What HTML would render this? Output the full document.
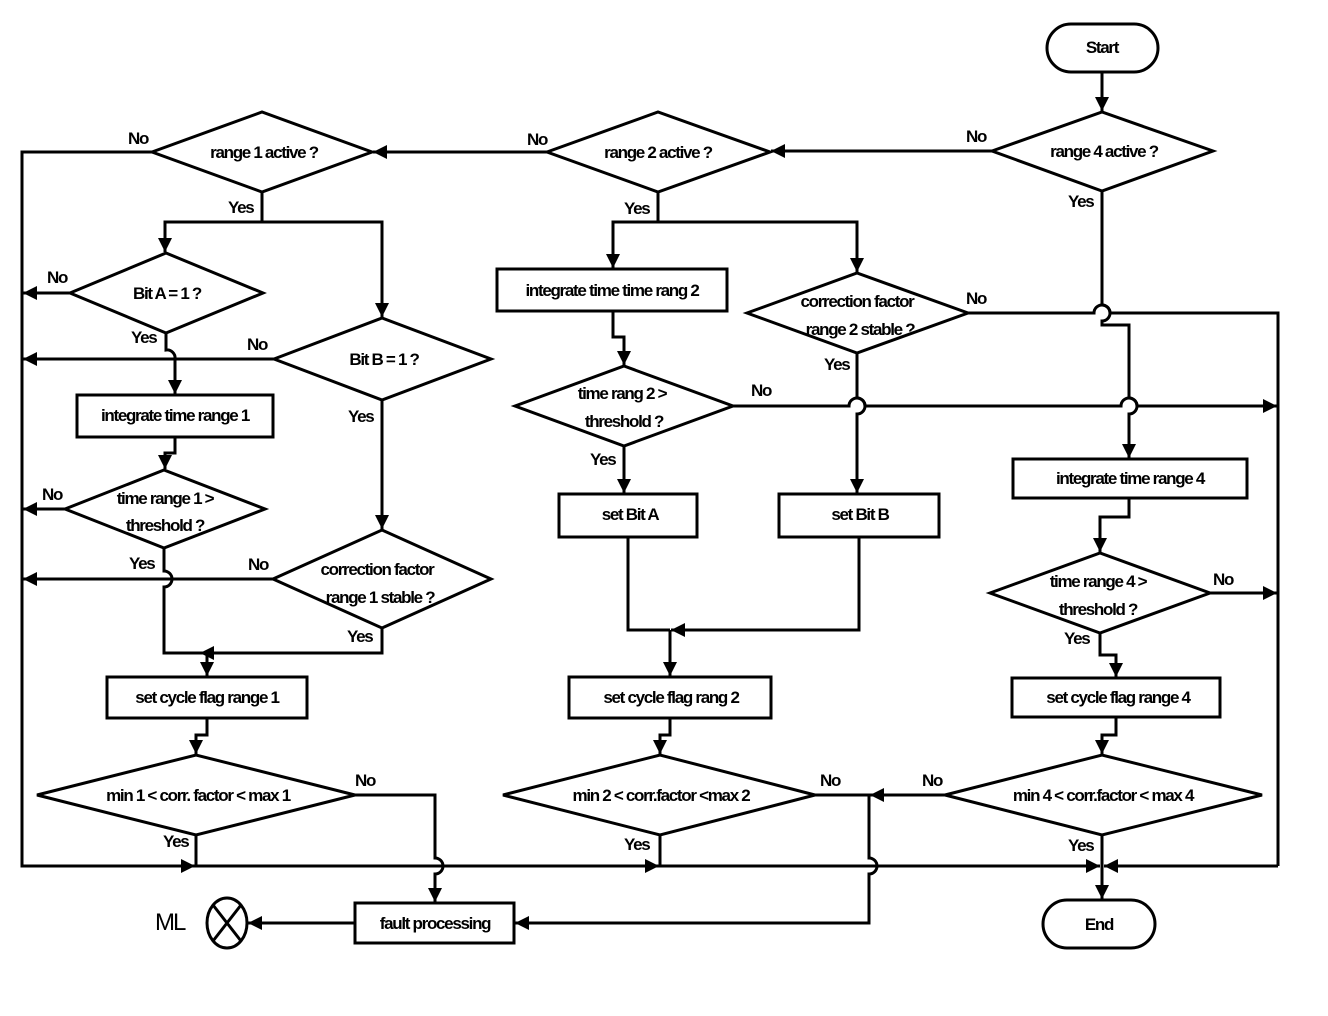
<!DOCTYPE html>
<html><head><meta charset="utf-8"><style>
html,body{margin:0;padding:0;background:#fff;}
svg{display:block;}
text{font-family:"Liberation Sans",sans-serif;font-weight:bold;font-size:17px;letter-spacing:-1.3px;fill:#000;}
.s{fill:none;stroke:#000;stroke-width:3;}
.b{fill:#fff;stroke:#000;stroke-width:3;}
</style></head><body>
<svg width="1328" height="1016" viewBox="0 0 1328 1016" xmlns="http://www.w3.org/2000/svg">
<defs>
<marker id="a" markerUnits="userSpaceOnUse" markerWidth="16" markerHeight="16" refX="14" refY="7" orient="auto">
<path d="M0,0 L14,7 L0,14 z" fill="#000"/></marker>
</defs>
<g class="s">
<!-- start -> range4 -->
<path d="M1102 72 V111" marker-end="url(#a)"/>
<path d="M992 151 H771" marker-end="url(#a)"/>
<path d="M547 152 H373" marker-end="url(#a)"/>
<path d="M152 152 H22 V866 H1086" />
<path d="M22 866 H195" marker-end="url(#a)"/>
<path d="M22 866 H659" marker-end="url(#a)"/>
<path d="M22 866 H1100" marker-end="url(#a)"/>
<path d="M1278 866 H1104" marker-end="url(#a)"/>
<!-- range4 yes -->
<path d="M1102 191 V305 a8 8 0 0 1 0 16 V325 H1129 V398 a8 8 0 0 1 0 16 V458" marker-end="url(#a)"/>
<!-- range1 yes -->
<path d="M262 192 V222 H382 V317" marker-end="url(#a)"/>
<path d="M262 222 H165 V252" marker-end="url(#a)"/>
<path d="M70 293 H23" marker-end="url(#a)"/>
<path d="M274 359 H23" marker-end="url(#a)"/>
<path d="M166 333 V350 a8 8 0 0 1 9 9 V394" marker-end="url(#a)"/>
<path d="M175 437 V453 H165 V469" marker-end="url(#a)"/>
<path d="M65 509 H23" marker-end="url(#a)"/>
<path d="M164 548 V571 a8 8 0 0 1 0 16 V653 H382 V628"/>
<path d="M273 579 H23" marker-end="url(#a)"/>
<path d="M382 400 V529" marker-end="url(#a)"/>
<path d="M382 653 H200" marker-end="url(#a)"/>
<path d="M207 653 V676" marker-end="url(#a)"/>
<path d="M207 718 V735 H196 V754" marker-end="url(#a)"/>
<path d="M355 795 H435 V858 a8 8 0 0 1 0 16 V902" marker-end="url(#a)"/>
<path d="M196 835 V866"/>
<path d="M355 923 H248" marker-end="url(#a)"/>
<!-- range2 -->
<path d="M658 192 V222 H857 V272" marker-end="url(#a)"/>
<path d="M658 222 H613 V268" marker-end="url(#a)"/>
<path d="M613 311 V337 H624 V365" marker-end="url(#a)"/>
<path d="M733 406 H849 a8 8 0 0 1 16 0 H1121 a8 8 0 0 1 16 0 H1277" marker-end="url(#a)"/>
<path d="M624 446 V493" marker-end="url(#a)"/>
<path d="M857 353 V398 a8 8 0 0 1 0 16 V493" marker-end="url(#a)"/>
<path d="M968 313 H1094 a8 8 0 0 1 16 0 H1278 V866"/>
<path d="M628 537 V630 H670"/>
<path d="M859 537 V630 H671" marker-end="url(#a)"/>
<path d="M670 630 V676" marker-end="url(#a)"/>
<path d="M670 718 V735 H660 V754" marker-end="url(#a)"/>
<path d="M660 835 V866"/>
<path d="M815 795 H869 V858 a8 8 0 0 1 0 16 V923 H515" marker-end="url(#a)"/>
<path d="M945 795 H870" marker-end="url(#a)"/>
<!-- range4 right -->
<path d="M1129 498 V517 H1100 V552" marker-end="url(#a)"/>
<path d="M1210 593 H1277" marker-end="url(#a)"/>
<path d="M1100 633 V655 H1116 V677" marker-end="url(#a)"/>
<path d="M1116 717 V735 H1102 V754" marker-end="url(#a)"/>
<path d="M1102 835 V899" marker-end="url(#a)"/>
</g>
<g class="b">
<rect x="1047" y="24" width="111" height="48" rx="24"/>
<rect x="1043" y="900" width="112" height="48" rx="24"/>
<polygon points="992,151 1102,112 1213,151 1102,191"/>
<polygon points="547,152 658,112 770,152 658,192"/>
<polygon points="152,152 262,112 372,152 262,192"/>
<polygon points="70,293 166,253 263,293 166,333"/>
<polygon points="274,359 382,318 491,359 382,400"/>
<rect x="77" y="395" width="196" height="42"/>
<polygon points="65,509 164,470 265,509 164,548"/>
<polygon points="273,579 382,530 491,579 382,628"/>
<rect x="107" y="677" width="200" height="41"/>
<polygon points="37,795 196,755 355,795 196,835"/>
<rect x="355" y="903" width="159" height="40"/>
<ellipse cx="227" cy="923" rx="20" ry="25"/>
<rect x="497" y="269" width="230" height="42"/>
<polygon points="747,313 857,273 968,313 857,353"/>
<polygon points="515,406 624,366 733,406 624,446"/>
<rect x="559" y="494" width="138" height="43"/>
<rect x="779" y="494" width="160" height="43"/>
<rect x="569" y="677" width="202" height="41"/>
<polygon points="503,795 660,755 815,795 660,835"/>
<rect x="1013" y="459" width="234" height="39"/>
<polygon points="990,593 1100,553 1210,593 1100,633"/>
<rect x="1012" y="678" width="208" height="39"/>
<polygon points="945,795 1102,755 1262,795 1102,835"/>
</g>
<g class="s"><path d="M213 905 L241 941 M241 905 L213 941"/></g>
<g text-anchor="middle">
<text x="1102" y="53">Start</text>
<text x="1099" y="930">End</text>
<text x="1104" y="157">range 4 active ?</text>
<text x="658" y="158">range 2 active ?</text>
<text x="264" y="158">range 1 active ?</text>
<text x="167" y="299">Bit A = 1 ?</text>
<text x="384" y="365">Bit B =  1 ?</text>
<text x="175" y="421">integrate time range 1</text>
<text x="165" y="504">time range 1 &gt;</text>
<text x="165" y="531">threshold ?</text>
<text x="377" y="575">correction factor</text>
<text x="380" y="603">range 1 stable ?</text>
<text x="207" y="703">set cycle flag  range 1</text>
<text x="198" y="801">min 1 &lt; corr. factor &lt; max 1</text>
<text x="435" y="929">fault processing</text>
<text x="612" y="296">integrate time time rang 2</text>
<text x="857" y="307">correction factor</text>
<text x="860" y="335">range 2 stable ?</text>
<text x="622" y="399">time rang 2 &gt;</text>
<text x="624" y="427">threshold ?</text>
<text x="630" y="520">set Bit A</text>
<text x="860" y="520">set Bit B</text>
<text x="671" y="703">set cycle flag rang 2</text>
<text x="661" y="801">min 2 &lt; corr.factor &lt;max 2</text>
<text x="1130" y="484">integrate time range 4</text>
<text x="1098" y="587">time range 4 &gt;</text>
<text x="1098" y="615">threshold ?</text>
<text x="1118" y="703">set cycle flag range 4</text>
<text x="1103" y="801">min 4 &lt; corr.factor &lt; max 4</text>
</g>
<g>
<text x="128" y="144">No</text><text x="228" y="213">Yes</text>
<text x="47" y="283">No</text><text x="131" y="343">Yes</text>
<text x="247" y="350">No</text><text x="348" y="422">Yes</text>
<text x="42" y="500">No</text><text x="129" y="569">Yes</text>
<text x="248" y="570">No</text><text x="347" y="642">Yes</text>
<text x="355" y="786">No</text><text x="163" y="847">Yes</text>
<text x="527" y="145">No</text><text x="624" y="214">Yes</text>
<text x="966" y="142">No</text><text x="1068" y="207">Yes</text>
<text x="966" y="304">No</text><text x="824" y="370">Yes</text>
<text x="751" y="396">No</text><text x="590" y="465">Yes</text>
<text x="820" y="786">No</text><text x="624" y="850">Yes</text>
<text x="922" y="786">No</text><text x="1068" y="851">Yes</text>
<text x="1213" y="585">No</text><text x="1064" y="644">Yes</text>
<text x="155" y="930" style="font-size:24px;font-weight:normal;letter-spacing:-2px">ML</text>
</g>
</svg>
</body></html>
